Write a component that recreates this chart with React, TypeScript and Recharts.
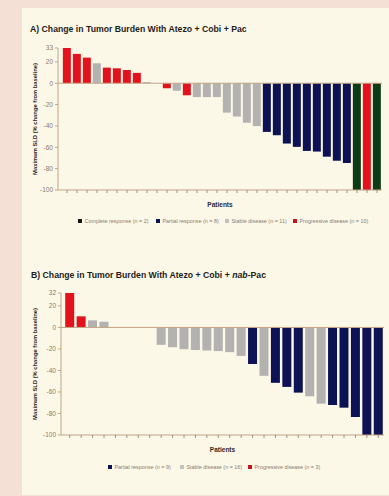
import { Bar, BarChart, Cell, Label, ReferenceLine, XAxis, YAxis } from "recharts";

type Resp = "CR" | "PR" | "SD" | "PD";

const FONT = '"Liberation Sans", Arial, sans-serif';
const AXIS = "#c3a487";
const TICK_TEXT = "#8c7869";

const RESPONSE_COLORS: Record<Resp, string> = {
  CR: "#0d3b15",
  PR: "#0c1253",
  SD: "#b4b2b1",
  PD: "#e2131c",
};

// Panel A: Atezo + Cobi + Pac, one entry per patient, sorted by best change
const patientsA = Array.from({ length: 32 }, (_, i) => `A${i + 1}`);
const changeA = [
  33, 27.5, 24, 18.7, 14.6, 14, 12.5, 9.7, 1, 0, -4.7, -7, -11.3, -13, -13, -13,
  -27.5, -31.2, -37, -40.2, -45.6, -48.7, -56.5, -59.6, -63.4, -64, -68.8, -72.6, -74.7,
  -100, -100, -100,
];
const responseA: Resp[] = [
  "PD", "PD", "PD", "SD", "PD", "PD", "PD", "PD", "SD", "SD", "PD", "SD", "PD", "SD", "SD", "SD",
  "SD", "SD", "SD", "SD", "PR", "PR", "PR", "PR", "PR", "PR", "PR", "PR", "PR",
  "CR", "PD", "CR",
];
const ticksA = [33, 20, 0, -20, -40, -60, -80, -100];

// Panel B: Atezo + Cobi + nab-Pac
const patientsB = Array.from({ length: 28 }, (_, i) => `B${i + 1}`);
const changeB = [
  32, 10.3, 6.6, 5.3, 0, 0, 0, 0, -16.2, -18.4, -20.3, -21, -21.5, -22, -23, -26.5,
  -34, -45, -51.5, -55.3, -60.6, -64, -70.9, -72.1, -74.6, -83.3, -100, -100,
];
const responseB: Resp[] = [
  "PD", "PD", "SD", "SD", "PD", "SD", "SD", "SD", "SD", "SD", "SD", "SD", "SD", "SD", "SD", "SD",
  "PR", "SD", "PR", "PR", "PR", "SD", "SD", "PR", "PR", "PR", "PR", "PR",
];
const ticksB = [32, 20, 0, -20, -40, -60, -80, -100];

const legendA = [
  { label: "Complete response (n = 2)", color: "#151515", x: 78 },
  { label: "Partial response (n = 8)", color: "#0c1253", x: 156 },
  { label: "Stable disease (n = 11)", color: "#c4c2c0", x: 225 },
  { label: "Progressive disease (n = 10)", color: "#c8141c", x: 293 },
];
const legendB = [
  { label: "Partial response (n = 9)", color: "#0c1253", x: 108 },
  { label: "Stable disease (n = 16)", color: "#c4c2c0", x: 180 },
  { label: "Progressive disease (n = 3)", color: "#c8141c", x: 248 },
];

type WaterfallProps = {
  ids: string[];
  values: number[];
  responses: Resp[];
  ticks: number[];
  top: number;
  yWidth: number;
  right: number;
  padLeft: number;
  gap: string;
};

function Waterfall({ ids, values, responses, ticks, top, yWidth, right, padLeft, gap }: WaterfallProps) {
  const data = ids.map((id, i) => ({ id, value: values[i], response: responses[i] }));
  return (
    <div style={{ position: "absolute", left: 0, top }}>
      <BarChart
        width={389}
        height={170}
        data={data}
        margin={{ top: 8, right, bottom: 0, left: 0 }}
        barCategoryGap={gap}
      >
        <XAxis
          dataKey="id"
          height={20}
          interval={0}
          padding={{ left: padLeft, right: 0 }}
          tickFormatter={() => ""}
          tickSize={3}
          tickLine={{ stroke: "#7a6a5c", strokeWidth: 0.7 }}
          axisLine={{ stroke: AXIS, strokeWidth: 1 }}
        >
          <Label
            value="Patients"
            position="insideBottom"
            offset={3}
            fill="#2e2a28"
            style={{ fontSize: 6.5, fontWeight: 700, fill: "#2e2a28", fontFamily: FONT }}
          />
        </XAxis>
        <YAxis
          type="number"
          domain={[-100, ticks[0]]}
          ticks={ticks}
          interval={0}
          width={yWidth}
          tickSize={3}
          tickLine={{ stroke: AXIS }}
          axisLine={{ stroke: AXIS, strokeWidth: 1 }}
          tick={{ fontSize: 6.5, fill: TICK_TEXT, fontFamily: FONT }}
        >
          <Label
            value="Maximum SLD (% change from baseline)"
            angle={-90}
            position="insideLeft"
            offset={35}
            fill="#2a2624"
            style={{ textAnchor: "middle", fontSize: 5.8, fontWeight: 700, fill: "#2a2624", fontFamily: FONT }}
          />
        </YAxis>
        <ReferenceLine y={0} stroke={AXIS} strokeWidth={1} />
        <Bar dataKey="value" isAnimationActive={false}>
          {data.map((d) => (
            <Cell key={d.id} fill={RESPONSE_COLORS[d.response]} />
          ))}
        </Bar>
      </BarChart>
    </div>
  );
}

function LegendRow({ items, y }: { items: { label: string; color: string; x: number }[]; y: number }) {
  return (
    <svg width={389} height={10} style={{ position: "absolute", left: 0, top: y - 5 }}>
      {items.map((it) => (
        <g key={it.label}>
          <rect x={it.x} y={3} width={4} height={4} fill={it.color} />
          <text x={it.x + 6.5} y={7} fontSize={5.4} fill="#8a7b70" fontFamily={FONT}>
            {it.label}
          </text>
        </g>
      ))}
    </svg>
  );
}

const titleStyle: React.CSSProperties = {
  position: "absolute",
  fontFamily: FONT,
  fontWeight: 700,
  fontSize: 8.7,
  color: "#1e1c1a",
  whiteSpace: "nowrap",
  lineHeight: "10px",
};

export default function App() {
  return (
    <div style={{ position: "relative", width: 389, height: 496, background: "#f5e0d6", overflow: "hidden" }}>
      <style>{"body{margin:0}"}</style>
      <div style={{ position: "absolute", left: 22, top: 8, right: 0, bottom: 1, background: "#fcf8e8" }} />

      <div style={{ ...titleStyle, left: 30, top: 24 }}>A) Change in Tumor Burden With Atezo + Cobi + Pac</div>
      <Waterfall
        ids={patientsA}
        values={changeA}
        responses={responseA}
        ticks={ticksA}
        top={40}
        yWidth={58}
        right={7}
        padLeft={4}
        gap="8.5%"
      />
      <LegendRow items={legendA} y={221} />

      <div style={{ ...titleStyle, left: 31, top: 270 }}>
        B) Change in Tumor Burden With Atezo + Cobi + <i>nab</i>-Pac
      </div>
      <Waterfall
        ids={patientsB}
        values={changeB}
        responses={responseB}
        ticks={ticksB}
        top={285}
        yWidth={61}
        right={5}
        padLeft={3}
        gap="10.5%"
      />
      <LegendRow items={legendB} y={467} />
    </div>
  );
}
